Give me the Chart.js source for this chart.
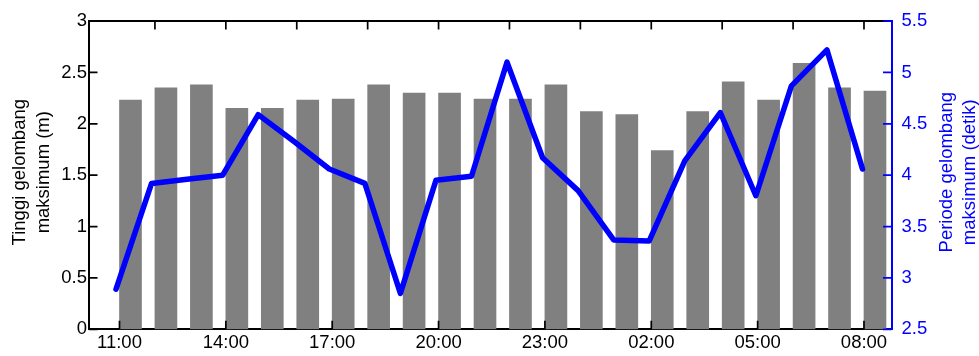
<!DOCTYPE html>
<html>
<head>
<meta charset="utf-8">
<script src="https://cdn.jsdelivr.net/npm/chart.js@4/dist/chart.umd.min.js"></script>
<style>
  html, body { margin: 0; padding: 0; background: #ffffff; }
  #wrap { width: 979px; height: 356px; }
</style>
</head>
<body>
<div id="wrap"><canvas id="c" width="979" height="356"></canvas></div>
<script>
// ---- data ----
const categories = ["11:00","12:00","13:00","14:00","15:00","16:00","17:00","18:00","19:00","20:00","21:00",
                    "22:00","23:00","00:00","01:00","02:00","03:00","04:00","05:00","06:00","07:00","08:00"];
const waveHeight = [2.23, 2.35, 2.38, 2.15, 2.15, 2.23, 2.24, 2.38, 2.30, 2.30, 2.24,
                    2.24, 2.38, 2.12, 2.09, 1.74, 2.12, 2.41, 2.23, 2.59, 2.35, 2.32];
const wavePeriod = [2.89, 3.92, 3.96, 4.00, 4.59, 4.33, 4.06, 3.92, 2.85, 3.95, 3.99,
                    5.10, 4.17, 3.85, 3.37, 3.36, 4.14, 4.61, 3.80, 4.87, 5.22, 4.06];
const bottomTickIdx = [0, 3, 6, 9, 12, 15, 18, 21];
const topTickIdx = [1, 3, 5, 7, 9, 11, 13, 15, 17, 19, 21];
const leftTitle = ["Tinggi gelombang", "maksimum (m)"];
const rightTitle = ["Periode gelombang", "maksimum (detik)"];

const FONT = '"Liberation Sans", Arial, Helvetica, sans-serif';
const FS = 18.5;
const BLUE = '#0000ff';

const ticksPlugin = {
  id: 'inwardTicks',
  afterDatasetsDraw(chart) {
    const { ctx, chartArea: a, scales } = chart;
    const L = 8.5;
    ctx.save();
    ctx.lineWidth = 1.7;
    ctx.strokeStyle = '#000';
    ctx.beginPath();
    scales.y.ticks.forEach(t => { const p = scales.y.getPixelForValue(t.value); ctx.moveTo(a.left, p); ctx.lineTo(a.left + L, p); });
    scales.x.ticks.forEach(t => { const p = scales.x.getPixelForValue(t.value); ctx.moveTo(p, a.bottom); ctx.lineTo(p, a.bottom - L); });
    scales.xTop.ticks.forEach(t => { const p = scales.xTop.getPixelForValue(t.value); ctx.moveTo(p, a.top); ctx.lineTo(p, a.top + L); });
    ctx.stroke();
    ctx.strokeStyle = BLUE;
    ctx.beginPath();
    scales.y2.ticks.forEach(t => { const p = scales.y2.getPixelForValue(t.value); ctx.moveTo(a.right, p); ctx.lineTo(a.right - L, p); });
    ctx.stroke();
    ctx.restore();
  },
  afterDraw(chart) {
    const { ctx, chartArea: a } = chart;
    const cy = (a.top + a.bottom) / 2 - 3;
    ctx.save();
    ctx.font = FS + 'px ' + FONT;
    ctx.textAlign = 'center';
    ctx.textBaseline = 'middle';
    const drawRot = (text, x, color) => {
      ctx.save();
      ctx.translate(x, cy);
      ctx.rotate(-Math.PI / 2);
      ctx.fillStyle = color;
      ctx.fillText(text, 0, 0);
      ctx.restore();
    };
    drawRot(leftTitle[0], 20, '#000');
    drawRot(leftTitle[1], 44, '#000');
    drawRot(rightTitle[0], 947, BLUE);
    drawRot(rightTitle[1], 970, BLUE);
    ctx.restore();
  }
};

const barMin = -0.860, barMax = 21.776;
const lineMin = -0.760, lineMax = 21.816;
const fmt = v => String(Math.round(v * 10) / 10);

new Chart(document.getElementById('c'), {
  type: 'bar',
  data: {
    datasets: [
      {
        type: 'line',
        data: wavePeriod.map((v, i) => ({ x: i, y: v })),
        xAxisID: 'xLine',
        yAxisID: 'y2',
        borderColor: BLUE,
        borderWidth: 5.5,
        pointRadius: 0,
        tension: 0,
        borderCapStyle: 'round',
        borderJoinStyle: 'round',
        order: 0
      },
      {
        type: 'bar',
        data: waveHeight.map((v, i) => ({ x: i, y: v })),
        xAxisID: 'x',
        yAxisID: 'y',
        backgroundColor: '#808080',
        borderWidth: 0,
        barThickness: 22,
        order: 1
      }
    ]
  },
  options: {
    responsive: false,
    animation: false,
    devicePixelRatio: 1,
    layout: { padding: 0 },
    plugins: { legend: { display: false }, tooltip: { enabled: false } },
    scales: {
      x: {
        type: 'linear', position: 'bottom', min: barMin, max: barMax, offset: false,
        grid: { display: false, drawTicks: false, offset: false },
        border: { display: true, color: '#000', width: 2 },
        afterBuildTicks: s => { s.ticks = bottomTickIdx.map(v => ({ value: v })); },
        ticks: { color: '#000', padding: 3, maxRotation: 0, autoSkip: false,
                 font: { family: FONT, size: FS },
                 callback: v => categories[v] },
        afterFit: s => { s.height = 26.7; }
      },
      xTop: {
        type: 'linear', position: 'top', min: barMin, max: barMax, offset: false,
        grid: { display: false, drawTicks: false, offset: false },
        border: { display: true, color: '#000', width: 2 },
        afterBuildTicks: s => { s.ticks = topTickIdx.map(v => ({ value: v })); },
        ticks: { display: false },
        afterFit: s => { s.height = 17.3; }
      },
      xLine: {
        type: 'linear', display: false, min: lineMin, max: lineMax, offset: false,
        grid: { offset: false }
      },
      y: {
        type: 'linear', position: 'left', min: 0, max: 3,
        grid: { display: false, drawTicks: false },
        border: { display: true, color: '#000', width: 2 },
        ticks: { stepSize: 0.5, color: '#000', padding: 2, font: { family: FONT, size: FS }, callback: fmt },
        afterFit: s => { s.width = 89; }
      },
      y2: {
        type: 'linear', position: 'right', min: 2.5, max: 5.5,
        grid: { display: false, drawTicks: false },
        border: { display: true, color: BLUE, width: 2 },
        ticks: { stepSize: 0.5, color: BLUE, padding: 10, font: { family: FONT, size: FS }, callback: fmt },
        afterFit: s => { s.width = 87.5; }
      }
    }
  },
  plugins: [ticksPlugin]
});
</script>
</body>
</html>
